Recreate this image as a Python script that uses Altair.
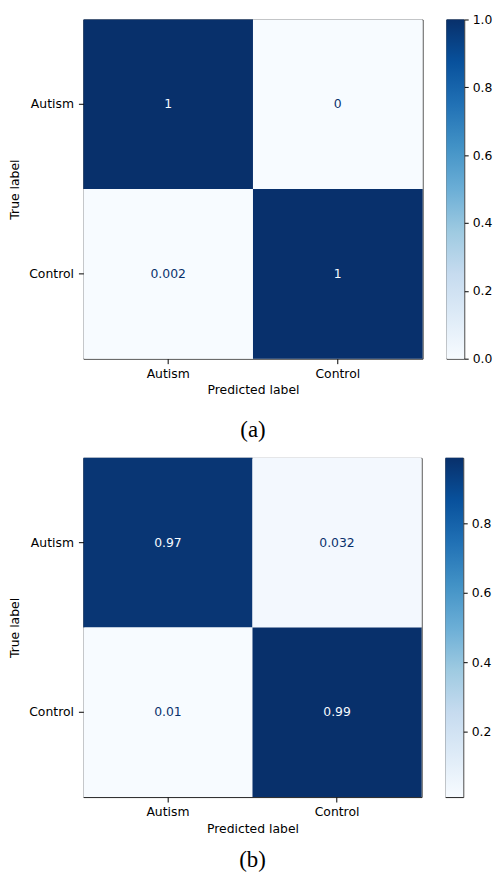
import altair as alt
import pandas as pd

labels = ["Autism", "Control"]
true_labels = ["Autism", "Autism", "Control", "Control"]
pred_labels = ["Autism", "Control", "Autism", "Control"]
values_a = [1.0, 0.0, 0.002, 0.998]
values_b = [0.968, 0.032, 0.0101, 0.9899]
colorbar_ticks_a = [0.0, 0.2, 0.4, 0.6, 0.8, 1.0]
colorbar_ticks_b = [0.2, 0.4, 0.6, 0.8]

blues = ['#f7fbff', '#deebf7', '#c6dbef', '#9ecae1', '#6baed6',
         '#4292c6', '#2171b5', '#08519c', '#08306b']

FONT = "DejaVu Sans"
FS = 12.5


def panel(values, caption, width, height, caption_offset, ticks):
    df = pd.DataFrame({"true": true_labels, "pred": pred_labels, "v": values})
    lo, hi = min(values), max(values)
    stops = [lo + (hi - lo) * i / (len(blues) - 1) for i in range(len(blues))]
    mid = (lo + hi) / 2

    x = alt.X("pred:N", sort=labels, title="Predicted label",
              scale=alt.Scale(paddingInner=0, paddingOuter=0),
              axis=alt.Axis(labelAngle=0, tickSize=5, labelPadding=3.5, titlePadding=4.5,
                            domain=False, labelFont=FONT, titleFont=FONT,
                            labelFontSize=FS, titleFontSize=FS, titleFontWeight="normal",
                            labelColor="black", titleColor="black", tickColor="black"))
    y = alt.Y("true:N", sort=labels, title="True label",
              scale=alt.Scale(paddingInner=0, paddingOuter=0),
              axis=alt.Axis(tickSize=5, labelPadding=5, titlePadding=7,
                            domain=False, labelFont=FONT, titleFont=FONT,
                            labelFontSize=FS, titleFontSize=FS, titleFontWeight="normal",
                            labelColor="black", titleColor="black", tickColor="black"))
    base = alt.Chart(df).encode(x=x, y=y)
    rect = base.mark_rect().encode(
        color=alt.Color("v:Q",
                        scale=alt.Scale(type="linear", domain=stops, range=blues),
                        legend=None)
    )
    text = base.mark_text(font=FONT, fontSize=FS).encode(
        text=alt.Text("v:Q", format=".2~g"),
        color=alt.condition(f"datum.v > {mid}", alt.value("#f7fbff"), alt.value("#08306b")),
    )
    matrix = alt.layer(rect, text).properties(
        width=width, height=height,
        title=alt.TitleParams(caption, orient="bottom", anchor="middle", frame="group",
                              font="Liberation Serif", fontSize=23, fontWeight="normal",
                              color="black", offset=caption_offset),
    )

    grad = alt.LinearGradient(
        gradient="linear",
        stops=[alt.GradientStop(offset=i / (len(blues) - 1), color=c) for i, c in enumerate(blues)],
        x1=0, x2=0, y1=1, y2=0,
    )
    cb_df = pd.DataFrame({"lo": [lo], "hi": [hi]})
    cbar = alt.Chart(cb_df).mark_rect(fill=grad).encode(
        y=alt.Y("lo:Q", scale=alt.Scale(domain=[lo, hi], nice=False, zero=False),
                axis=alt.Axis(orient="right", values=ticks, format=".1f", tickSize=4,
                              labelPadding=4, domain=False, grid=False, title=None,
                              labelFont=FONT, labelFontSize=FS, labelColor="black",
                              tickColor="black")),
        y2="hi:Q",
    ).properties(width=18, height=height)

    return alt.hconcat(matrix, cbar, spacing=22).resolve_scale(color="independent", y="independent")


pa = panel(values_a, "(a)", 342, 342, 23, colorbar_ticks_a)
pb = panel(values_b, "(b)", 341, 342, 15, colorbar_ticks_b)

chart = alt.vconcat(pa, pb, spacing=14).resolve_scale(
    color="independent", x="independent", y="independent"
).properties(
    padding={"left": 0, "top": 1, "right": 0, "bottom": 0}
).configure_view(stroke="#222", strokeWidth=1)

chart.save("out.html", embed_options={"renderer": "svg", "actions": False})
